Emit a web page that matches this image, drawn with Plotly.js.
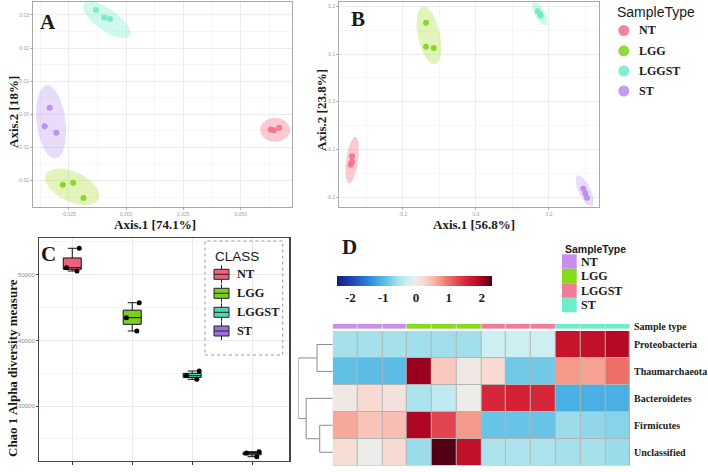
<!DOCTYPE html>
<html><head><meta charset="utf-8">
<script src="https://cdn.plot.ly/plotly-3.0.1.min.js"></script>
<style>html,body{margin:0;padding:0;background:#fff}#chart{width:708px;height:472px}</style>
</head><body><div id="chart"></div>
<script>
const W = 708, H = 472;
const SANS = 'Liberation Sans, Arial, sans-serif';
const SERIF = 'Liberation Serif, Times New Roman, serif';

// ---------- data ----------
const groups = ['NT', 'LGG', 'LGGST', 'ST'];
const groupColors = ['#F3708A', '#80D41C', '#6DEBC9', '#B68AEB'];
const ellipseFills = ['rgba(243,112,138,0.38)', 'rgba(160,214,30,0.30)', 'rgba(109,235,201,0.32)', 'rgba(182,138,235,0.30)'];

// Panel A (PCoA, Axis.1 74.1%, Axis.2 18%)
const pcoaA_x = [[0.0631, 0.0645, 0.0668], [-0.0276, -0.0231, -0.0186], [-0.0131, -0.0095, -0.0070], [-0.0333, -0.0355, -0.0304]];
const pcoaA_y = [[-0.0046, -0.0048, -0.0041], [-0.0213, -0.0207, -0.0253], [0.0315, 0.0292, 0.0288], [0.0020, -0.0036, -0.0056]];
// ellipse: centre, first semi-axis vector, second semi-axis vector (data units)
const ellA_cx = [0.0650, -0.0235, -0.0084, -0.0327];
const ellA_cy = [-0.0047, -0.0219, 0.0285, -0.0023];
const ellA_ux = [0.00654, 0.01147, 0.00998, 0.00192];
const ellA_uy = [0, -0.00371, -0.00486, -0.01108];
const ellA_vx = [0, -0.00275, -0.00275, 0.00628];
const ellA_vy = [0.00362, -0.00411, -0.00272, 0.00051];

// Panel B (PCoA, Axis.1 56.8%, Axis.2 23.8%)
const pcoaB_x = [[-0.3398, -0.3398, -0.3433], [-0.137, -0.137, -0.1159], [0.169, 0.1754, 0.1773], [0.294, 0.2995, 0.3041]];
const pcoaB_y = [[-0.1146, -0.1259, -0.1322], [0.1658, 0.1154, 0.1127], [0.1904, 0.1841, 0.1805], [-0.1826, -0.1923, -0.2015]];
const ellB_cx = [-0.3392, -0.1288, 0.1748, 0.2978];
const ellB_cy = [-0.1224, 0.1394, 0.1856, -0.187];
const ellB_ux = [-0.00904, 0.01671, 0.01671, 0.01973];
const ellB_uy = [-0.04891, -0.06066, -0.02414, -0.03232];
const ellB_vx = [0.01628, 0.02959, 0.01332, 0.01491];
const ellB_vy = [-0.00176, 0.00483, 0.00542, 0.00533];

// Panel C (Chao1)
const chaoNT = [54020, 51070, 50560];
const chaoLGG = [45740, 43460, 41430];
const chaoLGGST = [35340, 34630, 34080];
const chaoST = [22300, 22860, 23060];
const boxColors = ['#F0607A', '#7CCF1E', '#4ED9B0', '#9A72E0'];

// Panel D (heatmap)
const taxa = ['Proteobacteria', 'Thaumarchaeota', 'Bacteroidetes', 'Firmicutes', 'Unclassified'];
const sampleGroup = [0, 0, 0, 1, 1, 1, 2, 2, 2, 3, 3, 3];
const heatZ = [
  [-0.55, -0.55, -0.55, -0.58, -0.58, -0.58, -0.25, -0.25, -0.25, 1.78, 1.85, 1.92],
  [-0.90, -0.95, -0.95, 2.05, 0.40, 0.08, 0.25, -0.80, -0.80, 0.75, 0.70, 1.00],
  [0.05, 0.25, 0.15, -0.50, -0.35, 0.00, 1.55, 1.60, 1.55, -1.10, -1.10, -1.10],
  [0.65, 0.45, 0.50, 1.95, 1.30, 0.75, -0.85, -0.85, -0.85, -0.60, -0.65, -0.70],
  [0.20, 0.00, 0.25, -0.60, 2.30, 1.85, -0.50, -0.50, -0.50, -0.55, -0.55, -0.60]
];
const heatLegendLabels = ['NT', 'LGG', 'LGGST', 'ST'];
const annoColors = ['#C98EF0', '#86DC1A', '#F27A9A', '#6EEEC8'];
// dendrogram: [childA, childB, height]; leaves 0..4, merge k -> node 5+k
const dendroMerges = [[0, 1, 1.0], [3, 4, 0.83], [2, 6, 1.70], [5, 7, 2.20]];
const colorStops = [
  [-2.39, '#131F7E'], [-2.0, '#1E3FA8'], [-1.5, '#2C7ADB'], [-1.1, '#4AAFE3'], [-0.85, '#68C4E6'],
  [-0.55, '#A6E1EB'], [-0.25, '#CDEFF2'], [0, '#ECECEA'], [0.25, '#F9DAD2'], [0.5, '#FABDB1'],
  [0.75, '#F59A89'], [1.0, '#EC7068'], [1.3, '#E04550'], [1.6, '#D42034'], [1.85, '#C0102A'],
  [2.0, '#A8001F'], [2.33, '#4A0016']
];
const zMin = -2.39, zMax = 2.33;

// ---------- helpers ----------
const px = v => v / W;
const py = v => 1 - v / H;
function ellipse(cx, cy, ux, uy, vx, vy) {
  const xs = [], ys = [];
  for (let i = 0; i <= 72; i++) {
    const t = i / 72 * 2 * Math.PI;
    xs.push(cx + ux * Math.cos(t) + vx * Math.sin(t));
    ys.push(cy + uy * Math.cos(t) + vy * Math.sin(t));
  }
  return [xs, ys];
}
function ann(text, x, y, size, family, extra) {
  return Object.assign({
    text: text, x: px(x), y: py(y), xref: 'paper', yref: 'paper', showarrow: false,
    xanchor: 'center', yanchor: 'middle',
    font: { family: family, size: size, color: '#1a1a1a' }
  }, extra || {});
}

const traces = [];
// ----- panels A and B -----
function pcoa(xs, ys, cx, cy, ux, uy, vx, vy, xa, ya) {
  groups.forEach((g, i) => {
    const e = ellipse(cx[i], cy[i], ux[i], uy[i], vx[i], vy[i]);
    traces.push({ type: 'scatter', mode: 'lines', x: e[0], y: e[1], xaxis: xa, yaxis: ya,
      fill: 'toself', fillcolor: ellipseFills[i], line: { width: 0 }, hoverinfo: 'skip', showlegend: false });
  });
  groups.forEach((g, i) => {
    traces.push({ type: 'scatter', mode: 'markers', x: xs[i], y: ys[i], xaxis: xa, yaxis: ya, name: g,
      marker: { color: groupColors[i], size: 6, opacity: 0.9 }, showlegend: false });
  });
}
pcoa(pcoaA_x, pcoaA_y, ellA_cx, ellA_cy, ellA_ux, ellA_uy, ellA_vx, ellA_vy, 'x', 'y');
pcoa(pcoaB_x, pcoaB_y, ellB_cx, ellB_cy, ellB_ux, ellB_uy, ellB_vx, ellB_vy, 'x2', 'y2');

// ----- panel C -----
[chaoNT, chaoLGG, chaoLGGST, chaoST].forEach((vals, i) => {
  traces.push({ type: 'box', y: vals, x: vals.map(() => groups[i]), name: groups[i], xaxis: 'x3', yaxis: 'y3',
    fillcolor: boxColors[i], line: { color: '#111', width: 1 }, width: 0.3, whiskerwidth: 0.5,
    boxpoints: 'all', jitter: 1, pointpos: 0, quartilemethod: 'inclusive',
    marker: { color: '#000', size: 5 }, showlegend: false, hoverinfo: 'y' });
});

// ----- panel D -----
const scale = colorStops.map(s => [(s[0] - zMin) / (zMax - zMin), s[1]]);
scale[0][0] = 0; scale[scale.length - 1][0] = 1;
const cols = sampleGroup.map((g, i) => i);
traces.push({ type: 'heatmap', z: heatZ, x: cols, y: taxa.map((t, i) => i), xaxis: 'x4', yaxis: 'y4',
  zmin: zMin, zmax: zMax, colorscale: scale, xgap: 1, ygap: 1,
  colorbar: { orientation: 'h', thickness: 10, thicknessmode: 'pixels', len: 155, lenmode: 'pixels',
    x: px(415), xanchor: 'center', y: py(275.7), yanchor: 'top', xpad: 0, ypad: 0, outlinewidth: 0,
    tickvals: [-2, -1, 0, 1, 2], ticktext: ['-2', '-1', '0', '1', '2'], ticks: '',
    tickfont: { family: SERIF, size: 13, weight: 'bold', color: '#1a1a1a' } } });
// annotation bar
traces.push({ type: 'heatmap', z: [sampleGroup], x: cols, y: [0], xaxis: 'x4', yaxis: 'y5',
  zmin: 0, zmax: 3, showscale: false, xgap: 1,
  colorscale: [[0, annoColors[0]], [0.25, annoColors[0]], [0.25, annoColors[1]], [0.5, annoColors[1]],
    [0.5, annoColors[2]], [0.75, annoColors[2]], [0.75, annoColors[3]], [1, annoColors[3]]] });
// dendrogram
(function () {
  const nodeY = taxa.map((t, i) => i), nodeH = taxa.map(() => 0);
  const dx = [], dy = [];
  dendroMerges.forEach(m => {
    const a = m[0], b = m[1], h = m[2];
    [a, b].forEach(c => { dx.push(-nodeH[c], -h, null); dy.push(nodeY[c], nodeY[c], null); });
    dx.push(-h, -h, null); dy.push(nodeY[a], nodeY[b], null);
    nodeY.push((nodeY[a] + nodeY[b]) / 2); nodeH.push(h);
  });
  traces.push({ type: 'scatter', mode: 'lines', x: dx, y: dy, xaxis: 'x5', yaxis: 'y4',
    line: { color: '#8a8a8a', width: 1 }, hoverinfo: 'skip', showlegend: false, cliponaxis: false });
})();

// ---------- layout ----------
const gridA = { showgrid: true, gridcolor: '#ECECEC', gridwidth: 1, zeroline: false, showline: true, mirror: true,
  linecolor: '#A8A8A8', linewidth: 1, ticks: 'outside', ticklen: 2, tickcolor: '#B0B0B0',
  tickfont: { family: SANS, size: 5, color: '#a0a0a0' } };

const layout = {
  width: W, height: H, margin: { l: 0, r: 0, t: 0, b: 0 }, paper_bgcolor: '#fff', plot_bgcolor: '#fff',
  showlegend: false,
  xaxis: Object.assign({}, gridA, { domain: [px(33), px(292)], range: [-0.0406, 0.0724], anchor: 'y',
    tickvals: [-0.025, 0, 0.025, 0.05], ticktext: ['-0.025', '0.000', '0.025', '0.050'],
    minor: { dtick: 0.0125, tick0: 0, showgrid: true, gridcolor: '#F6F6F6' } }),
  yaxis: Object.assign({}, gridA, { domain: [py(207), py(2)], range: [-0.028, 0.0339], anchor: 'x',
    tickvals: [-0.02, -0.01, 0, 0.01, 0.02, 0.03], ticktext: ['-0.02', '-0.01', '0.00', '0.01', '0.02', '0.03'],
    minor: { dtick: 0.005, tick0: 0, showgrid: true, gridcolor: '#F6F6F6' } }),
  xaxis2: Object.assign({}, gridA, { domain: [px(339.3), px(599)], range: [-0.3745, 0.337], anchor: 'y2',
    tickvals: [-0.2, 0, 0.2], ticktext: ['-0.2', '0.0', '0.2'],
    minor: { dtick: 0.1, tick0: 0, showgrid: true, gridcolor: '#F6F6F6' } }),
  yaxis2: Object.assign({}, gridA, { domain: [py(207), py(2)], range: [-0.221, 0.2093], anchor: 'x2',
    tickvals: [-0.2, -0.1, 0, 0.1, 0.2], ticktext: ['-0.2', '-0.1', '0.0', '0.1', '0.2'],
    minor: { dtick: 0.05, tick0: 0, showgrid: true, gridcolor: '#F6F6F6' } }),
  xaxis3: { domain: [px(39.3), px(289.3)], anchor: 'y3', type: 'category', categoryorder: 'array', categoryarray: groups,
    range: [-0.55, 3.62], showticklabels: false, ticks: 'outside', ticklen: 3, tickcolor: '#333',
    showgrid: true, gridcolor: '#EAEAEA', zeroline: false, showline: true, mirror: true, linecolor: '#444', linewidth: 1.3 },
  yaxis3: { domain: [py(460.7), py(238.3)], anchor: 'x3', range: [21690, 55540],
    tickvals: [30000, 40000, 50000], ticktext: ['30000', '40000', '50000'],
    tickfont: { family: SANS, size: 6, color: '#8a8a8a' }, ticks: 'outside', ticklen: 2, tickcolor: '#444',
    showgrid: true, gridcolor: '#EAEAEA', zeroline: false, showline: true, mirror: true, linecolor: '#444', linewidth: 1.3,
    minor: { dtick: 5000, tick0: 0, showgrid: true, gridcolor: '#F5F5F5' } },
  xaxis4: { domain: [px(332.7), px(630)], anchor: 'y4', range: [-0.5, 11.5], showgrid: false, zeroline: false,
    showticklabels: false, ticks: '', showline: false },
  yaxis4: { domain: [py(465.7), py(331)], anchor: 'x4', range: [4.5, -0.5], side: 'right', showgrid: false, zeroline: false,
    tickvals: taxa.map((t, i) => i), ticktext: taxa, ticks: '', showline: false, ticklabelstandoff: 3,
    tickfont: { family: SERIF, size: 10, weight: 'bold', color: '#1a1a1a' } },
  yaxis5: { domain: [py(328.7), py(323.7)], anchor: 'x4', range: [-0.5, 0.5], side: 'right', showgrid: false, zeroline: false,
    tickvals: [0], ticktext: ['Sample type'], ticks: '', showline: false, ticklabelstandoff: 3,
    tickfont: { family: SERIF, size: 10, weight: 'bold', color: '#1a1a1a' } },
  xaxis5: { domain: [px(298.3), px(332.7)], anchor: 'y4', range: [-2.2, 0], showgrid: false, zeroline: false,
    showticklabels: false, ticks: '', showline: false },
  shapes: [],
  annotations: []
};

// heatmap cell border background
layout.shapes.push({ type: 'rect', xref: 'x4', yref: 'y4', x0: -0.5, x1: sampleGroup.length - 0.5, y0: -0.5, y1: taxa.length - 0.5,
  fillcolor: '#B4B4B4', line: { width: 0 }, layer: 'below' });
layout.shapes.push({ type: 'rect', xref: 'x4', yref: 'y5', x0: -0.5, x1: sampleGroup.length - 0.5, y0: -0.5, y1: 0.5,
  fillcolor: '#D8D8D8', line: { width: 0 }, layer: 'below' });

// panel letters
layout.annotations.push(ann('<b>A</b>', 48.3, 21.7, 21, SERIF));
layout.annotations.push(ann('<b>B</b>', 357.8, 19.3, 21, SERIF));
layout.annotations.push(ann('<b>C</b>', 48.3, 254.3, 21, SERIF));
layout.annotations.push(ann('<b>D</b>', 349.3, 246.7, 21, SERIF));
// axis titles
layout.annotations.push(ann('<b>Axis.1 [74.1%]</b>', 155, 225, 13, SERIF));
layout.annotations.push(ann('<b>Axis.2 [18%]</b>', 13, 112, 13, SERIF, { textangle: -90 }));
layout.annotations.push(ann('<b>Axis.1 [56.8%]</b>', 474, 225, 13, SERIF));
layout.annotations.push(ann('<b>Axis.2 [23.8%]</b>', 321, 110, 13, SERIF, { textangle: -90 }));
layout.annotations.push(ann('<b>Chao 1 Alpha diversity measure</b>', 12, 368, 13, SERIF, { textangle: -90 }));

// SampleType legend (A/B)
layout.annotations.push(ann('SampleType', 615, 11.7, 14, SANS, { xanchor: 'left' }));
const legY = [30.5, 50.8, 71, 91];
groups.forEach((g, i) => {
  layout.shapes.push({ type: 'circle', xref: 'paper', yref: 'paper', x0: px(618.3), x1: px(629.3),
    y0: py(legY[i] + 5.5), y1: py(legY[i] - 5.5), fillcolor: groupColors[i], opacity: 0.85, line: { width: 0 } });
  layout.annotations.push(ann('<b>' + g + '</b>', 637, legY[i], 12, SERIF, { xanchor: 'left' }));
});

// CLASS legend (C)
layout.shapes.push({ type: 'rect', xref: 'paper', yref: 'paper', x0: px(205), x1: px(282.7), y0: py(355), y1: py(241),
  line: { color: '#9a9a9a', width: 1, dash: 'dot' }, fillcolor: 'rgba(0,0,0,0)' });
layout.annotations.push(ann('CLASS', 213, 256, 13.5, SANS, { xanchor: 'left' }));
const clsY = [274.3, 293.3, 312.3, 331];
groups.forEach((g, i) => {
  const c = clsY[i];
  layout.shapes.push({ type: 'line', xref: 'paper', yref: 'paper', x0: px(221.5), x1: px(221.5), y0: py(c - 9), y1: py(c + 9),
    line: { color: '#222', width: 1 } });
  layout.shapes.push({ type: 'rect', xref: 'paper', yref: 'paper', x0: px(214), x1: px(229), y0: py(c + 5), y1: py(c - 5),
    fillcolor: boxColors[i], line: { color: '#222', width: 1 } });
  layout.shapes.push({ type: 'line', xref: 'paper', yref: 'paper', x0: px(214), x1: px(229), y0: py(c), y1: py(c),
    line: { color: '#222', width: 1 } });
  layout.annotations.push(ann('<b>' + g + '</b>', 235, c, 12.3, SERIF, { xanchor: 'left' }));
});

// heatmap SampleType legend (D)
layout.annotations.push(ann('<b>SampleType</b>', 562.5, 249, 10.5, SANS, { xanchor: 'left' }));
const hlTop = 254.3, hlStep = 14.5;
heatLegendLabels.forEach((g, i) => {
  layout.shapes.push({ type: 'rect', xref: 'paper', yref: 'paper', x0: px(562), x1: px(576.7),
    y0: py(hlTop + hlStep * (i + 1)), y1: py(hlTop + hlStep * i), fillcolor: annoColors[i], line: { width: 0 } });
  layout.annotations.push(ann('<b>' + g + '</b>', 579, hlTop + hlStep * (i + 0.5), 12, SERIF, { xanchor: 'left' }));
});

Plotly.newPlot('chart', traces, layout, { displayModeBar: false, staticPlot: true });
</script>
</body></html>
